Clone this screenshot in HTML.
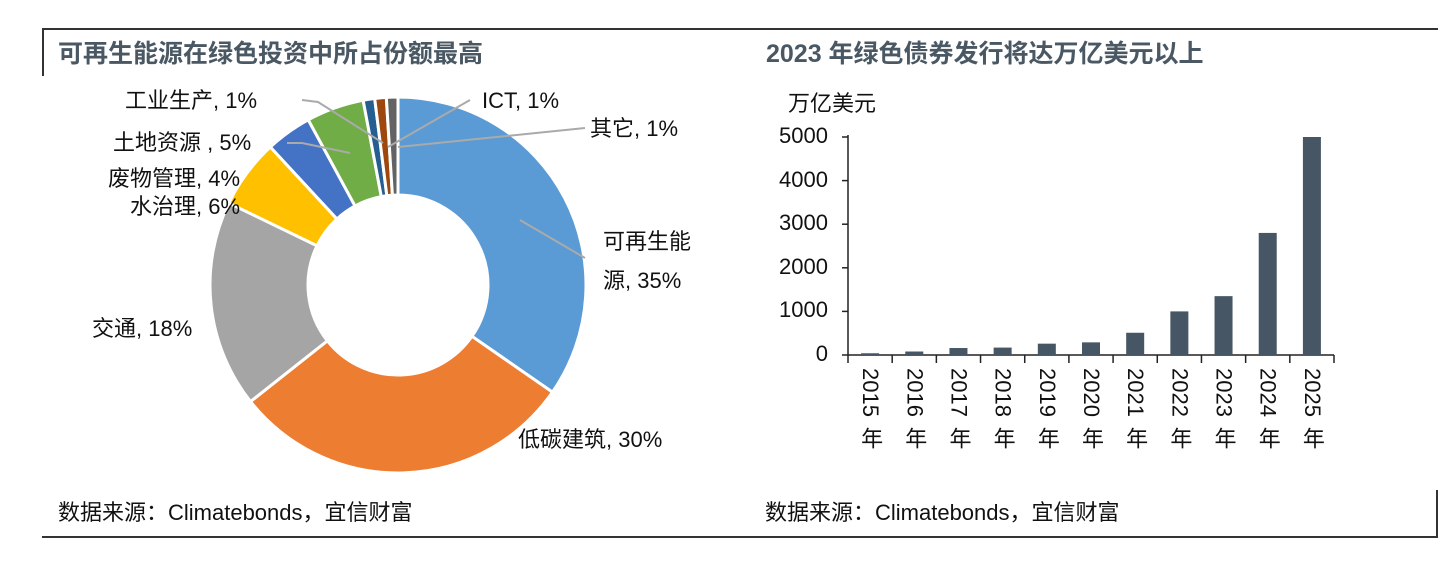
<!DOCTYPE html>
<html><head><meta charset="utf-8">
<style>
body{margin:0;background:#fff;width:1451px;height:570px;overflow:hidden;position:relative;font-family:"Liberation Sans","Noto Sans CJK SC",sans-serif;}
.t{position:absolute;white-space:nowrap;color:#111;line-height:1.2;}
.title{font-weight:bold;font-size:25px;color:#4a5864;letter-spacing:0px;}
.lab{font-size:22px;}
.src{font-size:22px;}
.yr{position:absolute;writing-mode:vertical-rl;font-size:22px;top:368px;color:#111;line-height:1;}
</style></head><body>
<div style="position:absolute;left:42px;top:28px;width:1396px;height:2px;background:#333"></div>
<div style="position:absolute;left:42px;top:28px;width:2px;height:48px;background:#333"></div>
<div style="position:absolute;left:42px;top:536px;width:1396px;height:2px;background:#333"></div>
<div style="position:absolute;left:1436px;top:490px;width:2px;height:48px;background:#333"></div>
<div class="t title" style="left:58px;top:39px">可再生能源在绿色投资中所占份额最高</div>
<div class="t title" style="left:766px;top:39px">2023 年绿色债券发行将达万亿美元以上</div>
<div class="t src" style="left:58px;top:500px">数据来源：Climatebonds，宜信财富</div>
<div class="t src" style="left:765px;top:500px">数据来源：Climatebonds，宜信财富</div>
<svg id="s" width="1451" height="570" style="position:absolute;left:0;top:0"></svg>
<div class="t lab" style="left:125px;top:88px">工业生产, 1%</div>
<div class="t lab" style="left:482px;top:88px">ICT, 1%</div>
<div class="t lab" style="left:590px;top:116px">其它, 1%</div>
<div class="t lab" style="left:113px;top:130px">土地资源 , 5%</div>
<div class="t lab" style="left:108px;top:166px">废物管理, 4%</div>
<div class="t lab" style="left:130px;top:194px">水治理, 6%</div>
<div class="t lab" style="left:603px;top:229px">可再生能</div>
<div class="t lab" style="left:603px;top:268px">源, 35%</div>
<div class="t lab" style="left:92px;top:316px">交通, 18%</div>
<div class="t lab" style="left:518px;top:427px">低碳建筑, 30%</div>
<div class="t lab" style="left:788px;top:91px">万亿美元</div>
<div id="yl"></div>
<script>
var s=document.getElementById('s'),h='';
var cx=398,cy=285,R=188,r=90;
var d=[[35,'#5B9BD5'],[30,'#ED7D31'],[18,'#A5A5A5'],[6,'#FFC000'],[4,'#4472C4'],[5,'#70AD47'],[1,'#255E91'],[1,'#9E480E'],[1,'#636363']];
var tot=101,a=0;
function p(rad,ang){return [cx+rad*Math.sin(ang),cy-rad*Math.cos(ang)];}
d.forEach(function(x){var a0=a/tot*2*Math.PI;a+=x[0];var a1=a/tot*2*Math.PI;var lg=(a1-a0)>Math.PI?1:0;
var A=p(R,a0),B=p(R,a1),C=p(r,a1),D=p(r,a0);
h+='<path d="M'+A+' A'+R+' '+R+' 0 '+lg+' 1 '+B+' L'+C+' A'+r+' '+r+' 0 '+lg+' 0 '+D+'Z" fill="'+x[1]+'" stroke="#fff" stroke-width="3"/>';});
h+='<g stroke="#aaa" stroke-width="2" fill="none"><polyline points="520,220 585,258"/><polyline points="470,100 388,147"/><polyline points="585,128 398,147"/><polyline points="302,100 318,102 383,143"/><polyline points="287,143 302,143 350,153"/></g>';
var x0=848,x1=1334,y0=355,k=218/5000,w=(x1-x0)/11;
var v=[40,80,160,170,260,290,510,1000,1350,2800,5000];
h+='<g stroke="#222" stroke-width="1.5"><line x1="'+x0+'" y1="135" x2="'+x0+'" y2="'+y0+'"/><line x1="'+x0+'" y1="'+y0+'" x2="'+x1+'" y2="'+y0+'"/>';
for(var i=0;i<=5;i++){var y=y0-i*1000*k;h+='<line x1="'+(x0-6)+'" y1="'+y+'" x2="'+x0+'" y2="'+y+'"/>';}
for(var i=0;i<=11;i++){var x=x0+i*w;h+='<line x1="'+x+'" y1="'+y0+'" x2="'+x+'" y2="'+(y0+8)+'"/>';}
h+='</g>';
var yl='';
for(var i=0;i<=5;i++){yl+='<div class="t" style="font-size:22px;right:'+(1451-828)+'px;top:'+(y0-i*1000*k-14)+'px">'+i*1000+'</div>';}
v.forEach(function(val,i){var cxb=x0+w*(i+0.5);h+='<rect x="'+(cxb-9)+'" y="'+(y0-val*k)+'" width="18" height="'+(val*k)+'" fill="#465664"/>';
yl+='<div class="yr" style="left:'+(cxb-11)+'px">'+(2015+i)+'<span style="display:inline-block;height:10px"></span>年</div>';});
s.innerHTML=h;document.getElementById('yl').innerHTML=yl;
</script>
</body></html>
